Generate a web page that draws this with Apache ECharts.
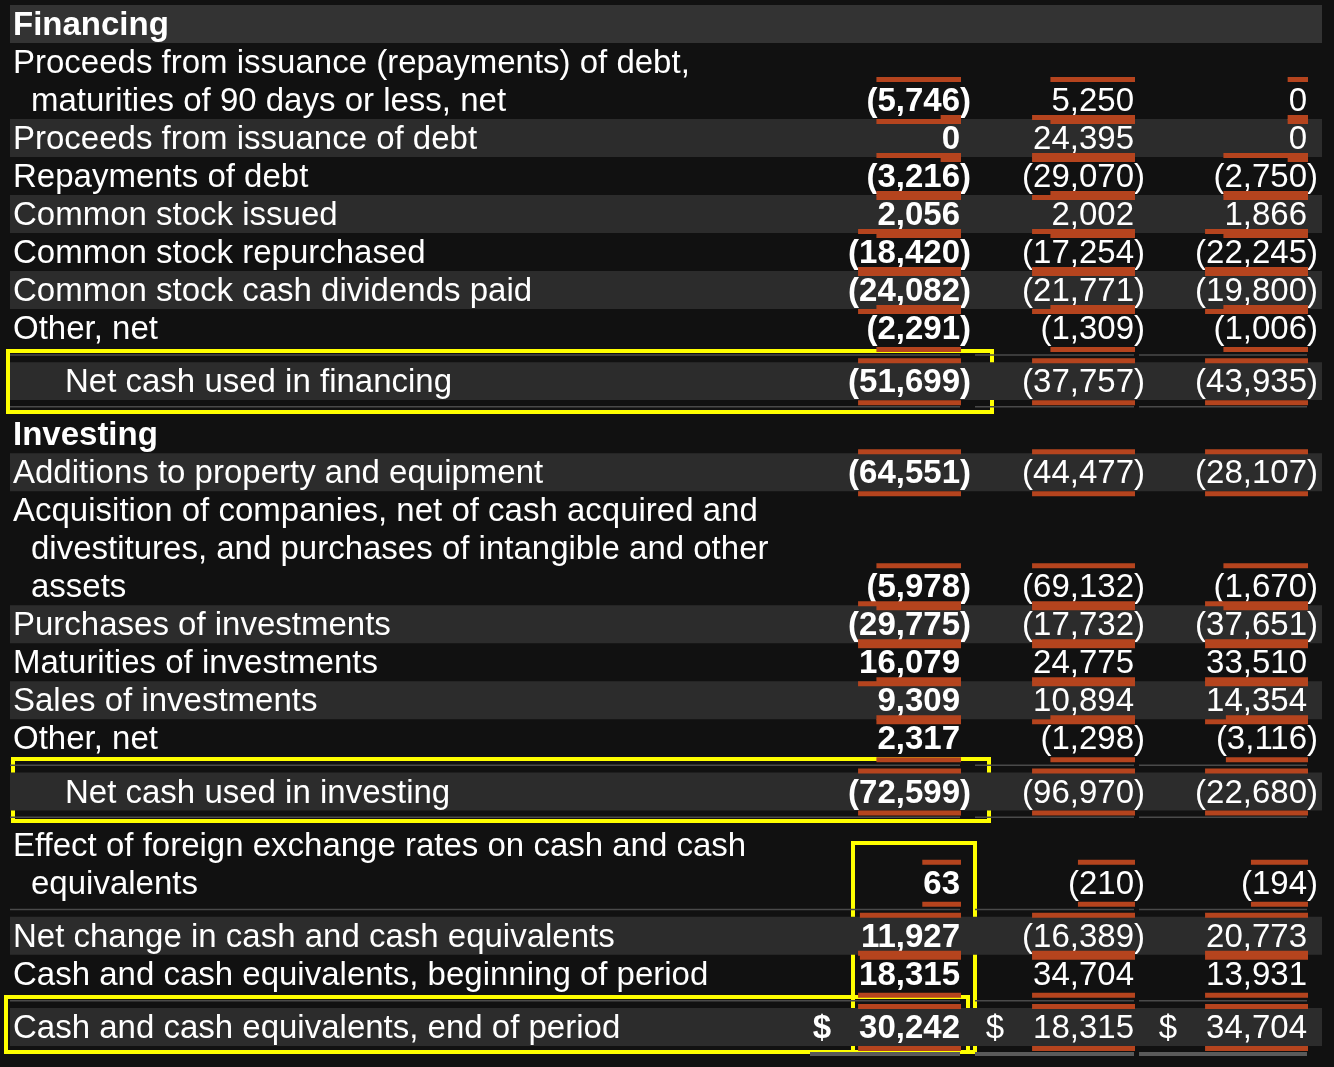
<!DOCTYPE html>
<html>
<head>
<meta charset="utf-8">
<script src="https://cdn.jsdelivr.net/npm/echarts@6/dist/echarts.min.js"></script>
<style>
  html, body { margin: 0; padding: 0; background: #111111; }
  #main { width: 1334px; height: 1067px; }
</style>
</head>
<body>
<div id="main"></div>
<script>
// row labels, in order
var rowLabels = [
  ['Financing'],
  ['Proceeds from issuance (repayments) of debt,', 'maturities of 90 days or less, net'],
  ['Proceeds from issuance of debt'],
  ['Repayments of debt'],
  ['Common stock issued'],
  ['Common stock repurchased'],
  ['Common stock cash dividends paid'],
  ['Other, net'],
  ['Net cash used in financing'],
  ['Investing'],
  ['Additions to property and equipment'],
  ['Acquisition of companies, net of cash acquired and', 'divestitures, and purchases of intangible and other', 'assets'],
  ['Purchases of investments'],
  ['Maturities of investments'],
  ['Sales of investments'],
  ['Other, net'],
  ['Net cash used in investing'],
  ['Effect of foreign exchange rates on cash and cash', 'equivalents'],
  ['Net change in cash and cash equivalents'],
  ['Cash and cash equivalents, beginning of period'],
  ['Cash and cash equivalents, end of period']
];
var headerRows = [0, 9];
var totalRows = [8, 16];
var bandRows = [0, 2, 4, 6, 8, 10, 12, 14, 16, 18, 20];
var spaceBefore = [8, 16, 18, 20];
var spaceAfter = [8, 16];
var dollarRows = [20];

// values for non-header rows, newest year first
var year1 = [-5746, 0, -3216, 2056, -18420, -24082, -2291, -51699, -64551, -5978, -29775, 16079, 9309, 2317, -72599, 63, 11927, 18315, 30242];
var year2 = [5250, 24395, -29070, 2002, -17254, -21771, -1309, -37757, -44477, -69132, -17732, 24775, 10894, -1298, -96970, -210, -16389, 34704, 18315];
var year3 = [0, 0, -2750, 1866, -22245, -19800, -1006, -43935, -28107, -1670, -37651, 33510, 14354, -3116, -22680, -194, 20773, 13931, 34704];
var columns = [year1, year2, year3];

var colRight = [960, 1134, 1307];
var colLeft = [10, 975, 1139];
var dollarX = [822, 995, 1168];
var FONT = '"Liberation Sans", Arial, sans-serif';
var ORANGE = '#b5441e';

// lay rows out in slots of one text line
var slot = 0, rowSlot = [];
rowLabels.forEach(function (lines, i) {
  if (spaceBefore.indexOf(i) >= 0) slot += 0.4;
  rowSlot.push({ first: slot, last: slot + lines.length - 1 });
  slot += lines.length;
  if (spaceAfter.indexOf(i) >= 0) slot += 0.4;
});

var measure = document.createElement('canvas').getContext('2d');
function textWidth(t, bold) {
  measure.font = (bold ? 'bold ' : '') + '33px ' + FONT;
  return measure.measureText(t).width;
}
function fmt(v) {
  return Math.abs(v).toLocaleString('en-US');
}

// cells: [slot, rowIndex, colIndex, value]
var cells = [];
var vi = 0;
rowLabels.forEach(function (lines, i) {
  if (headerRows.indexOf(i) >= 0) return;
  for (var c = 0; c < 3; c++) cells.push([rowSlot[i].last, i, c, columns[c][vi]]);
  vi++;
});

var labelData = [];
rowLabels.forEach(function (lines, i) {
  lines.forEach(function (t, k) { labelData.push([rowSlot[i].first + k, i, k, t]); });
});

var chart = echarts.init(document.getElementById('main'));

chart.setOption({
  backgroundColor: '#111111',
  animation: false,
  grid: { left: 0, right: 0, top: 5, height: 1041 },
  xAxis: { type: 'value', min: 0, max: 1334, show: false },
  yAxis: { type: 'value', min: -0.5, max: slot - 0.5, inverse: true, show: false },
  series: [
    {
      // row bands and separators
      type: 'custom',
      data: rowLabels.map(function (l, i) { return [rowSlot[i].last, i]; }),
      renderItem: function (params, api) {
        var i = api.value(1);
        var p = api.coord([0, api.value(0)]);
        var h = api.size([0, 1])[1];
        var kids = [];
        if (bandRows.indexOf(i) >= 0) {
          kids.push({ type: 'rect', shape: { x: 10, y: p[1] - h / 2, width: 1312, height: h },
            style: { fill: i === 0 ? '#333333' : '#2c2c2c' } });
        }
        var gray = function (y, t) {
          for (var c = 0; c < 3; c++) {
            var x0 = c === 0 ? (t > 2 ? 810 : 10) : colLeft[c];
            kids.push({ type: 'rect', shape: { x: x0, y: y, width: colRight[c] - x0, height: t },
              style: { fill: t > 2 ? '#5a5a5a' : '#4a4a4a' } });
          }
        };
        if (spaceBefore.indexOf(i) >= 0) gray(p[1] - h / 2 - 8, 1.5);
        if (totalRows.indexOf(i) >= 0) gray(p[1] + h / 2 + 6, 1.5);
        if (i === rowLabels.length - 1) gray(p[1] + h / 2 + 6, 4);
        return { type: 'group', children: kids };
      }
    },
    {
      // row labels
      type: 'custom',
      data: labelData,
      renderItem: function (params, api) {
        var i = api.value(1), k = api.value(2);
        var p = api.coord([0, api.value(0)]);
        var isHead = headerRows.indexOf(i) >= 0;
        var x = totalRows.indexOf(i) >= 0 ? 65 : (k > 0 ? 31 : 13);
        return { type: 'text', x: x, y: p[1] + 2,
          style: { text: labelData[params.dataIndex][3], fill: '#ffffff',
            font: (isHead ? 'bold ' : '') + '33px ' + FONT, verticalAlign: 'middle', align: 'left' } };
      }
    },
    {
      // values with their orange rules
      type: 'custom',
      data: cells,
      renderItem: function (params, api) {
        var i = api.value(1), c = api.value(2), v = api.value(3);
        var p = api.coord([0, api.value(0)]);
        var bold = c === 0;
        var font = (bold ? 'bold ' : '') + '33px ' + FONT;
        var s = fmt(v);
        var w = textWidth(s, bold);
        var r = colRight[c];
        var kids = [
          { type: 'rect', shape: { x: r - w - 1, y: p[1] - 23, width: w + 2, height: 5 }, style: { fill: ORANGE } },
          { type: 'rect', shape: { x: r - w - 1, y: p[1] + 19, width: w + 2, height: 5 }, style: { fill: ORANGE } },
          { type: 'text', x: r, y: p[1] + 2, style: { text: (v < 0 ? '(' : '') + s, fill: '#ffffff', font: font, align: 'right', verticalAlign: 'middle' } }
        ];
        if (v < 0) kids.push({ type: 'text', x: r, y: p[1] + 2, style: { text: ')', fill: '#ffffff', font: font, align: 'left', verticalAlign: 'middle' } });
        if (dollarRows.indexOf(i) >= 0) kids.push({ type: 'text', x: dollarX[c], y: p[1] + 2, style: { text: '$', fill: '#ffffff', font: font, align: 'center', verticalAlign: 'middle' } });
        return { type: 'group', children: kids };
      }
    }
  ],
  graphic: [
    { type: 'rect', shape: { x: 8, y: 351, width: 984, height: 61 }, style: { fill: null, stroke: '#ffff00', lineWidth: 4 } },
    { type: 'rect', shape: { x: 13, y: 759, width: 976, height: 62 }, style: { fill: null, stroke: '#ffff00', lineWidth: 4 } },
    { type: 'rect', shape: { x: 853, y: 843, width: 122, height: 209 }, style: { fill: null, stroke: '#ffff00', lineWidth: 4 } },
    { type: 'rect', shape: { x: 6, y: 997, width: 962, height: 55 }, style: { fill: null, stroke: '#ffff00', lineWidth: 4 } }
  ]
});
</script>
</body>
</html>
